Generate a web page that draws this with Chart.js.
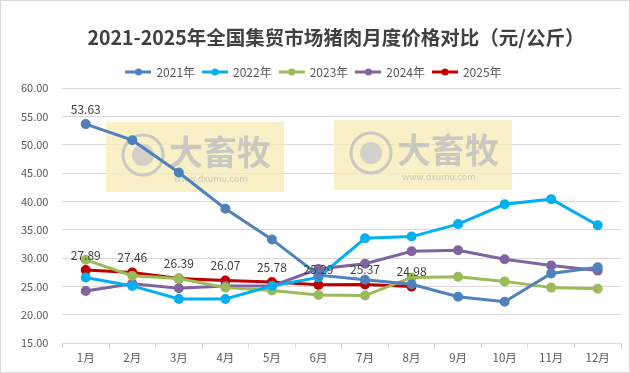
<!DOCTYPE html>
<html>
<head>
<meta charset="utf-8">
<script src="https://cdn.jsdelivr.net/npm/chart.js@4.4.1/dist/chart.umd.min.js"></script>
<style>
  html, body { margin: 0; padding: 0; background: #fff; }
  #wrap { width: 628px; height: 371px; border: 1px solid #d9d9d9; position: relative; }
</style>
</head>
<body>
<div id="wrap"><canvas id="myChart" width="628" height="371"></canvas></div>
<script>
const chartTitle = '2021-2025年全国集贸市场猪肉月度价格对比（元/公斤）';
const months = ["1月", "2月", "3月", "4月", "5月", "6月", "7月", "8月", "9月", "10月", "11月", "12月"];
const y2021 = [53.63, 50.8, 45.1, 38.7, 33.3, 27.0, 26.2, 25.4, 23.2, 22.3, 27.3, 28.4];
const y2022 = [26.6, 25.1, 22.8, 22.8, 25.1, 26.6, 33.5, 33.8, 36.0, 39.5, 40.4, 35.8];
const y2023 = [29.7, 26.9, 26.4, 24.8, 24.3, 23.5, 23.4, 26.6, 26.7, 25.9, 24.8, 24.6];
const y2024 = [24.2, 25.5, 24.7, 25.1, 25.1, 28.1, 29.0, 31.2, 31.4, 29.8, 28.7, 27.8];
const y2025 = [27.89, 27.46, 26.39, 26.07, 25.78, 25.29, 25.37, 24.98];
const series = ["2021年", "2022年", "2023年", "2024年", "2025年"];
const colors = ['#4f81bd', '#00b0f0', '#9bbb59', '#8064a2', '#c00000'];

const ctx = document.getElementById('myChart').getContext('2d');
const fontFam = '"Noto Sans CJK SC", "Noto Sans", sans-serif';

// legend marker: short line with a dot, like Excel
function legendMarker(color) {
    const cv = document.createElement('canvas');
    cv.width = 26; cv.height = 10;
    const g = cv.getContext('2d');
    g.strokeStyle = color;
    g.lineWidth = 3;
    g.beginPath();
    g.moveTo(0, 5); g.lineTo(26, 5);
    g.stroke();
    g.fillStyle = color;
    g.beginPath();
    g.arc(13, 5, 3.5, 0, Math.PI * 2);
    g.fill();
    return cv;
}
const markers = colors.map(legendMarker);

// title drawn by hand (it sits a bit right of centre in the original)
const titlePlugin = {
    id: 'titlePlugin',
    afterDraw(chart) {
        const c = chart.ctx;
        c.save();
        c.font = 'bold 19.5px ' + fontFam;
        c.fillStyle = '#404040';
        c.textAlign = 'center';
        c.textBaseline = 'middle';
        c.fillText(chartTitle, 335, 37);
        c.restore();
    }
};

// watermark boxes behind the lines
const watermark = {
    id: 'watermark',
    beforeDatasetsDraw(chart) {
        const c = chart.ctx;
        [[105, 121], [333, 119]].forEach(([x, y]) => {
            c.save();
            c.fillStyle = 'rgba(245, 236, 180, 0.75)';
            c.fillRect(x, y, 178, 70);
            c.strokeStyle = 'rgba(190,190,190,0.8)';
            c.lineWidth = 3;
            c.beginPath();
            c.arc(x + 37, y + 33, 20, 0, Math.PI * 2);
            c.stroke();
            c.fillStyle = 'rgba(200,200,200,0.8)';
            c.beginPath();
            c.arc(x + 37, y + 33, 11, 0, Math.PI * 2);
            c.fill();
            c.font = 'bold 34px ' + fontFam;
            c.fillStyle = 'rgba(190,190,190,0.8)';
            c.textBaseline = 'middle';
            c.fillText('大畜牧', x + 63, y + 30);
            c.font = '9px ' + fontFam;
            c.fillText('www.dxumu.com', x + 68, y + 57);
            c.restore();
        });
    }
};

// value labels for 2025 and the first 2021 point
const valueLabels = {
    id: 'valueLabels',
    afterDatasetsDraw(chart) {
        const c = chart.ctx;
        c.save();
        c.font = '12px ' + fontFam;
        c.fillStyle = '#404040';
        c.textAlign = 'center';
        c.textBaseline = 'bottom';
        const m0 = chart.getDatasetMeta(0).data[0];
        c.fillText(y2021[0].toFixed(2), m0.x, m0.y - 9);
        chart.getDatasetMeta(4).data.forEach((p, i) => {
            c.fillText(y2025[i].toFixed(2), p.x, p.y - 9);
        });
        c.restore();
    }
};

const allData = [y2021, y2022, y2023, y2024, y2025];

new Chart(ctx, {
    type: 'line',
    data: {
        labels: months,
        datasets: series.map((name, i) => ({
            label: name,
            data: allData[i],
            borderColor: colors[i],
            backgroundColor: colors[i],
            borderWidth: 3,
            pointRadius: 3.5,
            pointHoverRadius: 3.5,
            fill: false,
            tension: 0
        }))
    },
    options: {
        responsive: false,
        animation: false,
        layout: { padding: { left: 6, right: 8, top: 57, bottom: 4 } },
        plugins: {
            title: { display: false },
            legend: {
                labels: {
                    usePointStyle: true,
                    pointStyleWidth: 24,
                    color: '#595959',
                    font: { family: fontFam, size: 12 },
                    padding: 8,
                    generateLabels(chart) {
                        const items = Chart.defaults.plugins.legend.labels.generateLabels(chart);
                        items.forEach((it, i) => { it.pointStyle = markers[i]; });
                        return items;
                    }
                }
            },
            tooltip: { enabled: false }
        },
        scales: {
            x: {
                offset: true,
                grid: { display: true, drawOnChartArea: false, offset: true, color: '#d9d9d9', tickLength: 5 },
                border: { color: '#d9d9d9' },
                ticks: { color: '#595959', font: { family: fontFam, size: 11.5 } }
            },
            y: {
                min: 15,
                max: 60,
                ticks: {
                    stepSize: 5,
                    color: '#595959',
                    font: { family: fontFam, size: 11 },
                    padding: 14,
                    callback: function(value) {
                        return value.toFixed(2);
                    }
                },
                grid: { color: '#d9d9d9', drawTicks: false },
                border: { display: false }
            }
        }
    },
    plugins: [watermark, valueLabels, titlePlugin]
});
</script>
</body>
</html>
